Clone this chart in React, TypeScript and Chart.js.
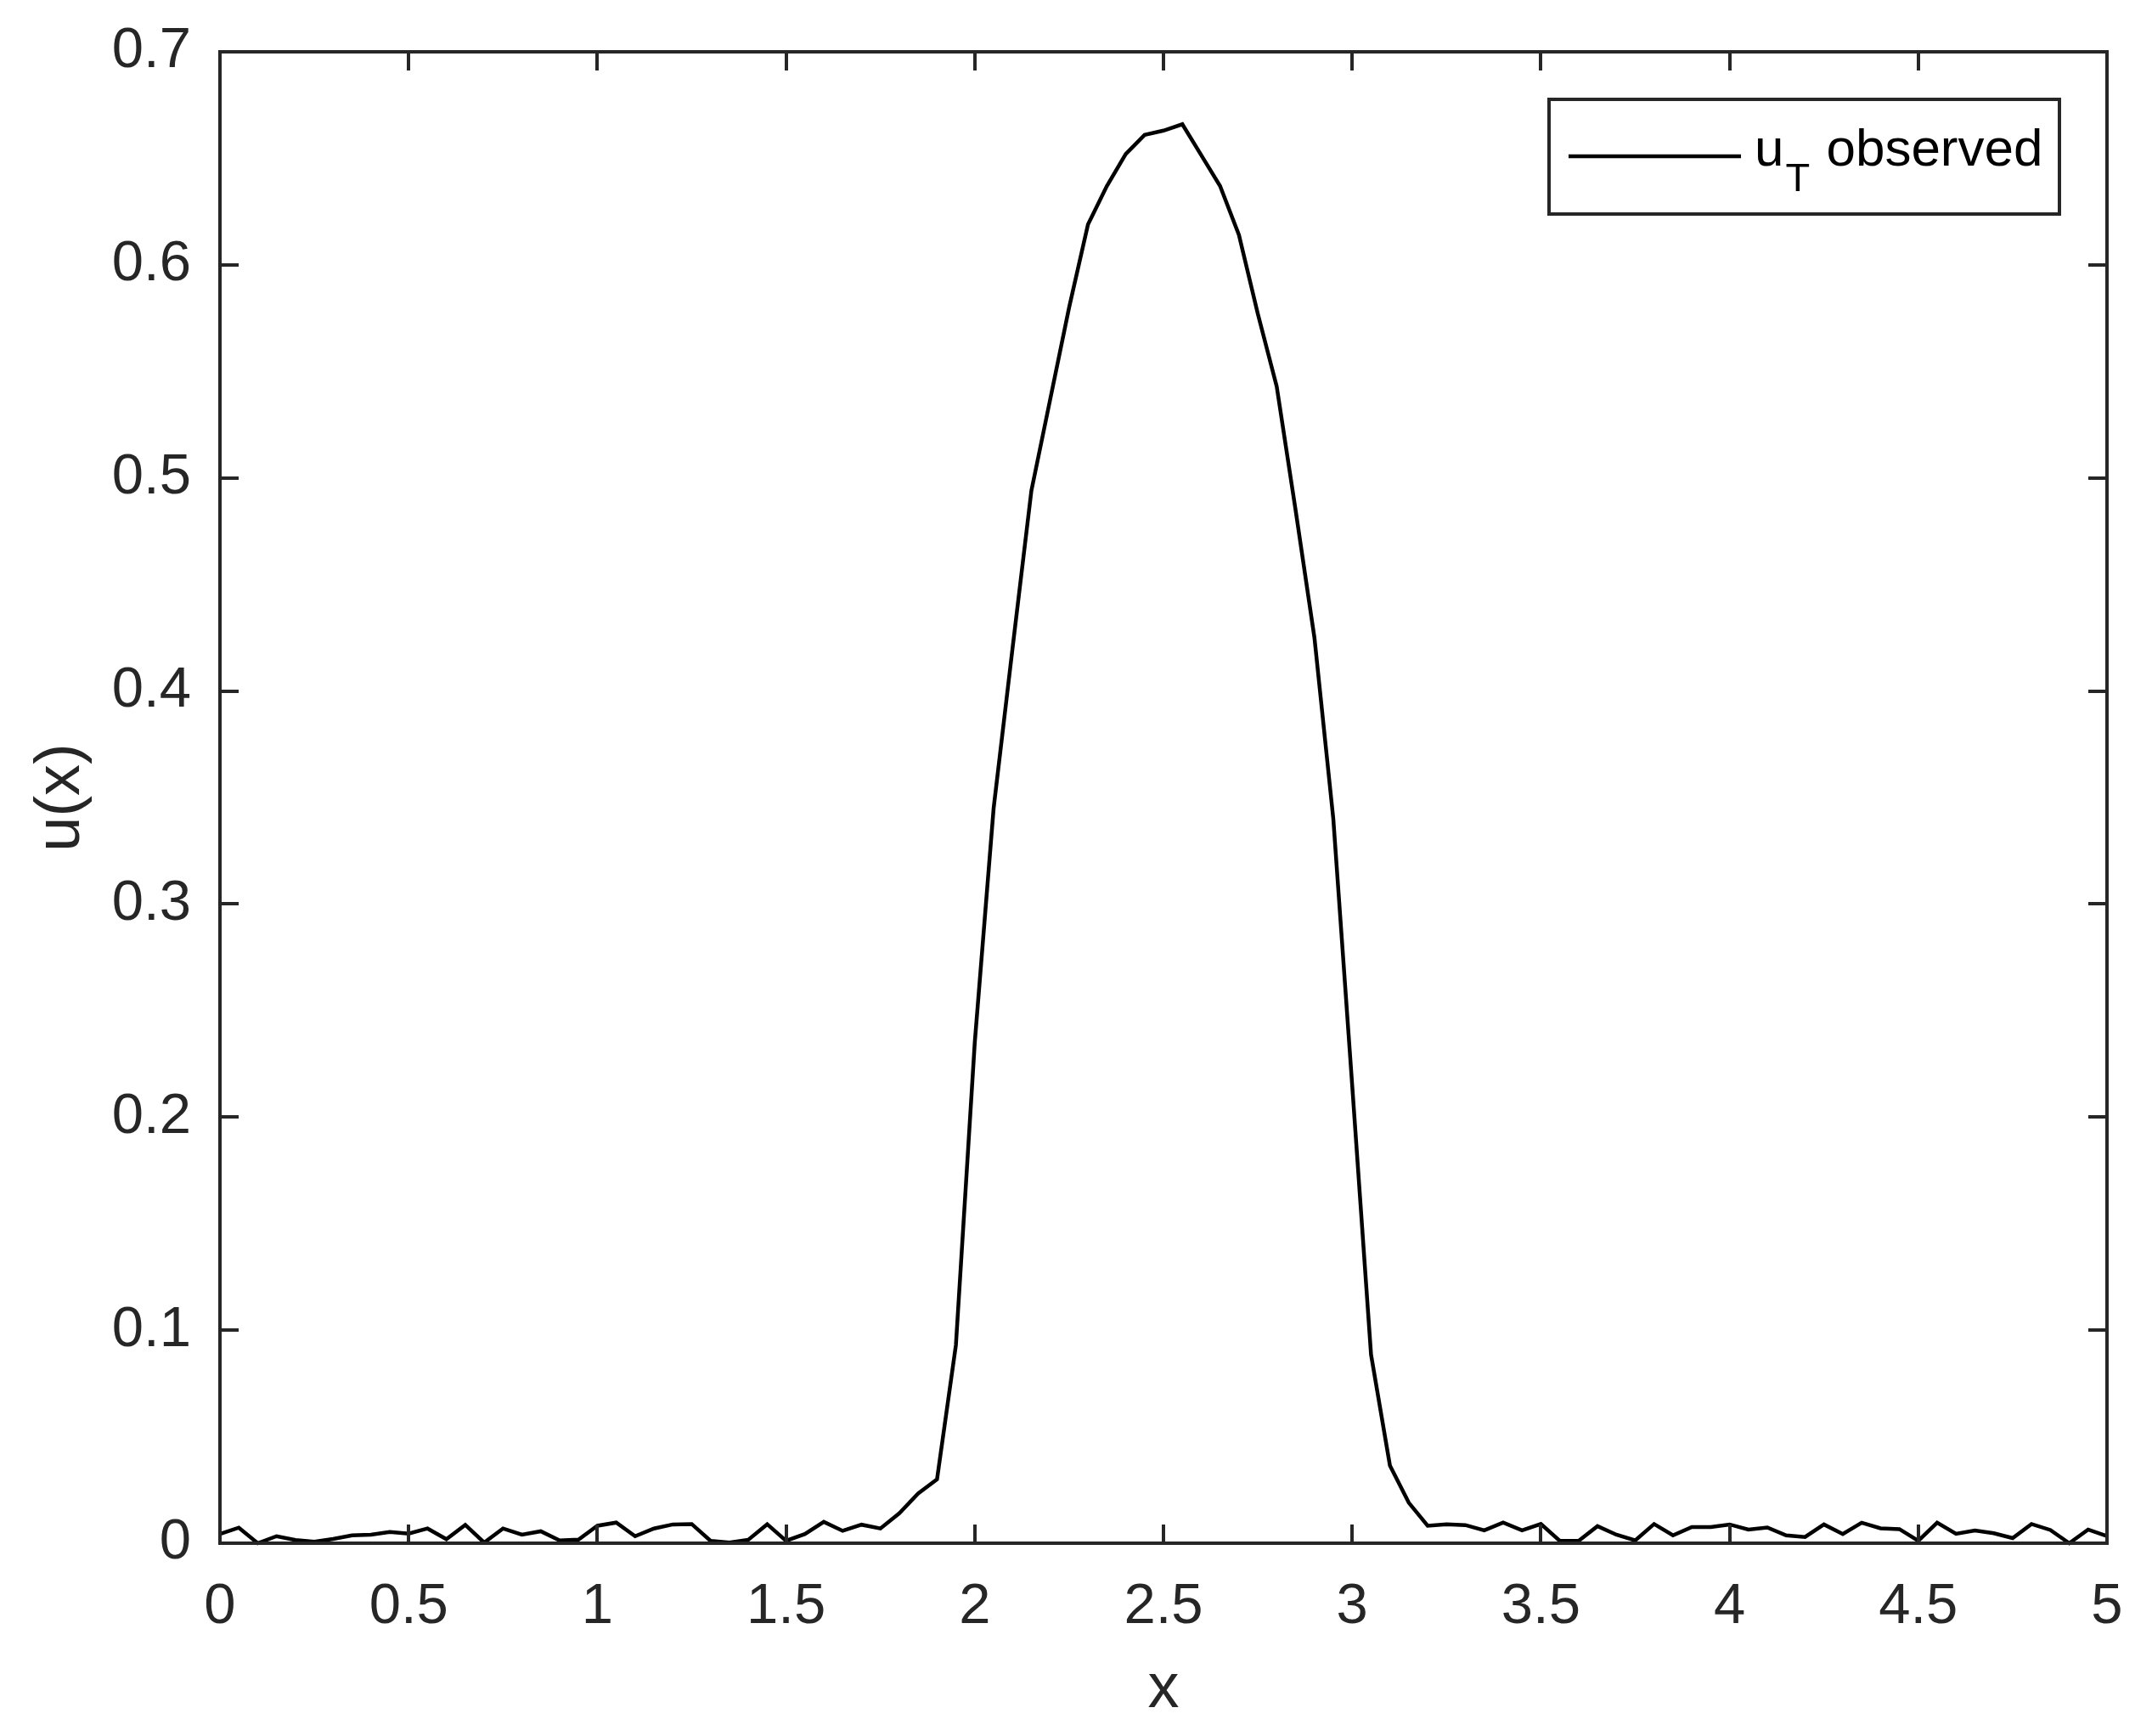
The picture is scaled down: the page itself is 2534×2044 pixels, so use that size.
import { useEffect, useRef } from "react";
import { Chart, registerables } from "chart.js";

Chart.register(...registerables);

const xValues = [
  0.0, 0.05, 0.1, 0.15, 0.2, 0.25, 0.3, 0.35, 0.4, 0.45,
  0.5, 0.55, 0.6, 0.65, 0.7, 0.75, 0.8, 0.85, 0.9, 0.95,
  1.0, 1.05, 1.1, 1.15, 1.2, 1.25, 1.3, 1.35, 1.4, 1.45,
  1.5, 1.55, 1.6, 1.65, 1.7, 1.75, 1.8, 1.85, 1.9, 1.95,
  2.0, 2.05, 2.1, 2.15, 2.2, 2.25, 2.3, 2.35, 2.4, 2.45,
  2.5, 2.55, 2.6, 2.65, 2.7, 2.75, 2.8, 2.85, 2.9, 2.95,
  3.0, 3.05, 3.1, 3.15, 3.2, 3.25, 3.3, 3.35, 3.4, 3.45,
  3.5, 3.55, 3.6, 3.65, 3.7, 3.75, 3.8, 3.85, 3.9, 3.95,
  4.0, 4.05, 4.1, 4.15, 4.2, 4.25, 4.3, 4.35, 4.4, 4.45,
  4.5, 4.55, 4.6, 4.65, 4.7, 4.75, 4.8, 4.85, 4.9, 4.95,
  5.0,
];

const uObserved = [
  0.0043, 0.0073, 0.0, 0.0033, 0.0015, 0.0007, 0.002, 0.0037, 0.004, 0.0053,
  0.0045, 0.0069, 0.0019, 0.0086, 0.0003, 0.0069, 0.004, 0.0056, 0.0013, 0.0017,
  0.0082, 0.0097, 0.0033, 0.0069, 0.0088, 0.009, 0.0011, 0.0003, 0.0016, 0.0089,
  0.0011, 0.0043, 0.01, 0.0058, 0.0087, 0.0069, 0.014, 0.0233, 0.03, 0.093,
  0.235, 0.345, 0.42, 0.494, 0.537, 0.58, 0.619, 0.637, 0.652, 0.661,
  0.663, 0.666, 0.6515, 0.637, 0.614, 0.577, 0.543, 0.485, 0.425, 0.34,
  0.215, 0.0885, 0.0365, 0.019, 0.0082, 0.0089, 0.0085, 0.006, 0.0097, 0.006,
  0.009, 0.0011, 0.0011, 0.008, 0.004, 0.0013, 0.009, 0.0037, 0.0076, 0.0076,
  0.0088, 0.0064, 0.0074, 0.0037, 0.0029, 0.0088, 0.0043, 0.0096, 0.007, 0.0066,
  0.0011, 0.0096, 0.0044, 0.006, 0.0047, 0.0024, 0.009, 0.0062, 0.0, 0.0064,
  0.0033,
];

const xTicks = [0, 0.5, 1, 1.5, 2, 2.5, 3, 3.5, 4, 4.5, 5];
const xTickLabels = ["0", "0.5", "1", "1.5", "2", "2.5", "3", "3.5", "4", "4.5", "5"];
const yTicks = [0, 0.1, 0.2, 0.3, 0.4, 0.5, 0.6, 0.7];
const yTickLabels = ["0", "0.1", "0.2", "0.3", "0.4", "0.5", "0.6", "0.7"];

const xTitle = "x";
const yTitle = "u(x)";
const legendMain = "u";
const legendSub = "T";
const legendRest = "observed";

const FONT = "'Liberation Sans', Arial, Helvetica, sans-serif";
const AXIS = "#262626";

const framePlugin = {
  id: "matlabFrame",
  afterDatasetsDraw(chart: any) {
    const { ctx, chartArea: a, scales } = chart;
    ctx.save();
    ctx.strokeStyle = AXIS;
    ctx.lineWidth = 4;
    ctx.lineCap = "butt";
    const L = 22;
    ctx.beginPath();
    for (const v of xTicks) {
      const px = Math.round(scales.x.getPixelForValue(v));
      ctx.moveTo(px, a.bottom);
      ctx.lineTo(px, a.bottom - L);
      ctx.moveTo(px, a.top);
      ctx.lineTo(px, a.top + L);
    }
    for (const v of yTicks) {
      const py = Math.round(scales.y.getPixelForValue(v));
      ctx.moveTo(a.left, py);
      ctx.lineTo(a.left + L, py);
      ctx.moveTo(a.right, py);
      ctx.lineTo(a.right - L, py);
    }
    ctx.stroke();
    ctx.strokeRect(a.left, a.top, a.right - a.left, a.bottom - a.top);

    // legend
    const bx = a.right - 657;
    const by = a.top + 56;
    const bw = 601;
    const bh = 135;
    ctx.fillStyle = "#ffffff";
    ctx.fillRect(bx, by, bw, bh);
    ctx.strokeStyle = AXIS;
    ctx.lineWidth = 4;
    ctx.strokeRect(bx, by, bw, bh);
    ctx.strokeStyle = "#000000";
    ctx.lineWidth = 4.5;
    ctx.beginPath();
    ctx.moveTo(bx + 23, by + 67);
    ctx.lineTo(bx + 226, by + 67);
    ctx.stroke();
    ctx.fillStyle = "#000000";
    ctx.textBaseline = "alphabetic";
    ctx.textAlign = "left";
    let tx = bx + 242;
    const base = by + 78;
    ctx.font = `62px ${FONT}`;
    ctx.fillText(legendMain, tx, base);
    tx += ctx.measureText(legendMain).width + 2;
    ctx.font = `47px ${FONT}`;
    ctx.fillText(legendSub, tx, base + 30);
    tx += ctx.measureText(legendSub).width;
    ctx.font = `62px ${FONT}`;
    tx += ctx.measureText(" ").width + 2;
    ctx.fillText(legendRest, tx, base);
    ctx.restore();
  },
};

export default function App() {
  const ref = useRef<HTMLCanvasElement | null>(null);

  useEffect(() => {
    if (!ref.current) return;
    const points = xValues.map((x, i) => ({ x, y: uObserved[i] }));
    const chart = new Chart(ref.current, {
      type: "line",
      data: {
        datasets: [
          {
            label: "uT observed",
            data: points,
            borderColor: "#000000",
            borderWidth: 4.5,
            pointRadius: 0,
            tension: 0,
            fill: false,
            clip: 8,
          } as any,
        ],
      },
      options: {
        animation: false,
        responsive: false,
        devicePixelRatio: 1,
        layout: { padding: { left: 0, top: 61, right: 53, bottom: 0 } },
        plugins: {
          legend: { display: false },
          tooltip: { enabled: false },
        },
        scales: {
          x: {
            type: "linear",
            min: 0,
            max: 5,
            afterFit: (s: any) => {
              s.height = 227;
              s.paddingLeft = 0;
              s.paddingRight = 0;
            },
            afterBuildTicks: (s: any) => {
              s.ticks = xTicks.map((v) => ({ value: v }));
            },
            grid: { display: false, drawTicks: false },
            border: { display: false },
            ticks: {
              color: AXIS,
              padding: 35,
              maxRotation: 0,
              autoSkip: false,
              font: { family: FONT, size: 67 },
              callback: (_v: any, i: number) => xTickLabels[i],
            },
            title: {
              display: true,
              text: xTitle,
              color: AXIS,
              font: { family: FONT, size: 74 },
              padding: { top: 0, bottom: 10 },
            },
          },
          y: {
            type: "linear",
            min: 0,
            max: 0.7,
            afterFit: (s: any) => {
              s.width = 259;
              s.paddingTop = 0;
              s.paddingBottom = 0;
            },
            afterBuildTicks: (s: any) => {
              s.ticks = yTicks.map((v) => ({ value: v }));
            },
            grid: { display: false, drawTicks: false },
            border: { display: false },
            ticks: {
              color: AXIS,
              padding: 34,
              autoSkip: false,
              font: { family: FONT, size: 67 },
              callback: (_v: any, i: number) => yTickLabels[i],
            },
            title: {
              display: true,
              text: yTitle,
              color: AXIS,
              font: { family: FONT, size: 74 },
              padding: { top: 28, bottom: 0 },
            },
          },
        },
      },
      plugins: [framePlugin],
    });
    return () => chart.destroy();
  }, []);

  return (
    <div style={{ position: "fixed", left: 0, top: 0, width: 2534, height: 2044, background: "#ffffff" }}>
      <canvas ref={ref} width={2534} height={2044} style={{ width: 2534, height: 2044, display: "block" }} />
    </div>
  );
}
